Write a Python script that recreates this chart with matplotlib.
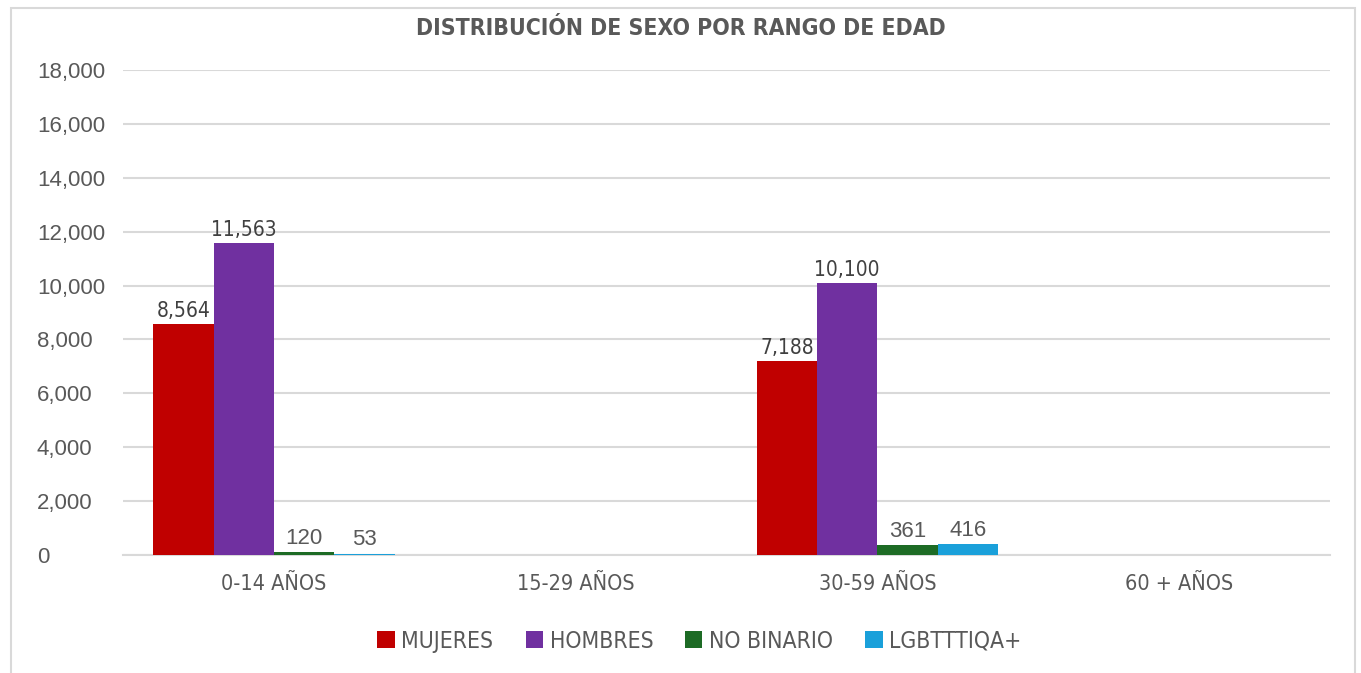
import numpy as np
import matplotlib.pyplot as plt
from matplotlib.patches import Rectangle

rangos = ['0-14 AÑOS', '15-29 AÑOS', '30-59 AÑOS', '60 + AÑOS']
series = ['MUJERES', 'HOMBRES', 'NO BINARIO', 'LGBTTTIQA+']
mujeres = [8564, 0, 7188, 0]
hombres = [11563, 0, 10100, 0]
no_binario = [120, 0, 361, 0]
lgbt = [53, 0, 416, 0]
colores = ['#C00000', '#7030A0', '#1D6B25', '#1AA0DA']

plt.rcParams['font.family'] = ['Liberation Sans', 'DejaVu Sans']
cond = dict(family='DejaVu Sans', stretch='condensed')

fig = plt.figure(figsize=(13.61, 6.73), dpi=100)
# marco del grafico (sin linea inferior visible)
fig.patches.append(Rectangle((11 / 1361, -0.1), 1344 / 1361, 1.1 - 8 / 673,
                             transform=fig.transFigure, fill=False,
                             edgecolor='#D9D9D9', lw=1.5))
ax = fig.add_axes([123 / 1361, 118 / 673, 1207 / 1361, 485 / 673])

x = np.arange(len(rangos))
w = 0.2
datos = [mujeres, hombres, no_binario, lgbt]
for i, (vals, nombre, c) in enumerate(zip(datos, series, colores)):
    pos = x + (i - 1.5) * w
    ax.bar(pos, vals, w, color=c, label=nombre, zorder=3)
    for px, v in zip(pos, vals):
        if v >= 1000:
            ax.text(px, v + 120, f'{v:,}', ha='center', va='bottom',
                    fontsize=15, color='#404040', **cond)
        elif v > 0:
            ax.text(px, v + 120, f'{v:,}', ha='center', va='bottom',
                    fontsize=16, color='#595959')

ax.set_xlim(-0.5, 3.5)
ax.set_ylim(0, 18000)
ax.set_yticks(np.arange(0, 18001, 2000))
ax.set_yticklabels([f'{t:,}' for t in range(0, 18001, 2000)], ha='left')
ax.tick_params(axis='y', length=0, pad=62, labelsize=16, labelcolor='#595959')
ax.set_xticks(x)
ax.set_xticklabels(rangos, **cond)
ax.tick_params(axis='x', length=0, pad=14, labelsize=15.5, labelcolor='#595959')
ax.grid(axis='y', color='#D9D9D9', lw=1.5, zorder=0)
for s in ['top', 'right', 'left']:
    ax.spines[s].set_visible(False)
ax.spines['bottom'].set_color('#D9D9D9')
ax.spines['bottom'].set_linewidth(1.5)

fig.text(0.5, 0.958, 'DISTRIBUCIÓN DE SEXO POR RANGO DE EDAD', ha='center', va='center',
         fontsize=16.5, fontweight='bold', color='#595959', **cond)
fig.legend(loc='center', bbox_to_anchor=(0.514, 0.047), ncol=4, frameon=False,
           prop=dict(size=16.5, **cond), labelcolor='#595959',
           handlelength=0.75, handleheight=0.75, handletextpad=0.3, columnspacing=1.4)

fig.savefig('out.png', dpi=100)
